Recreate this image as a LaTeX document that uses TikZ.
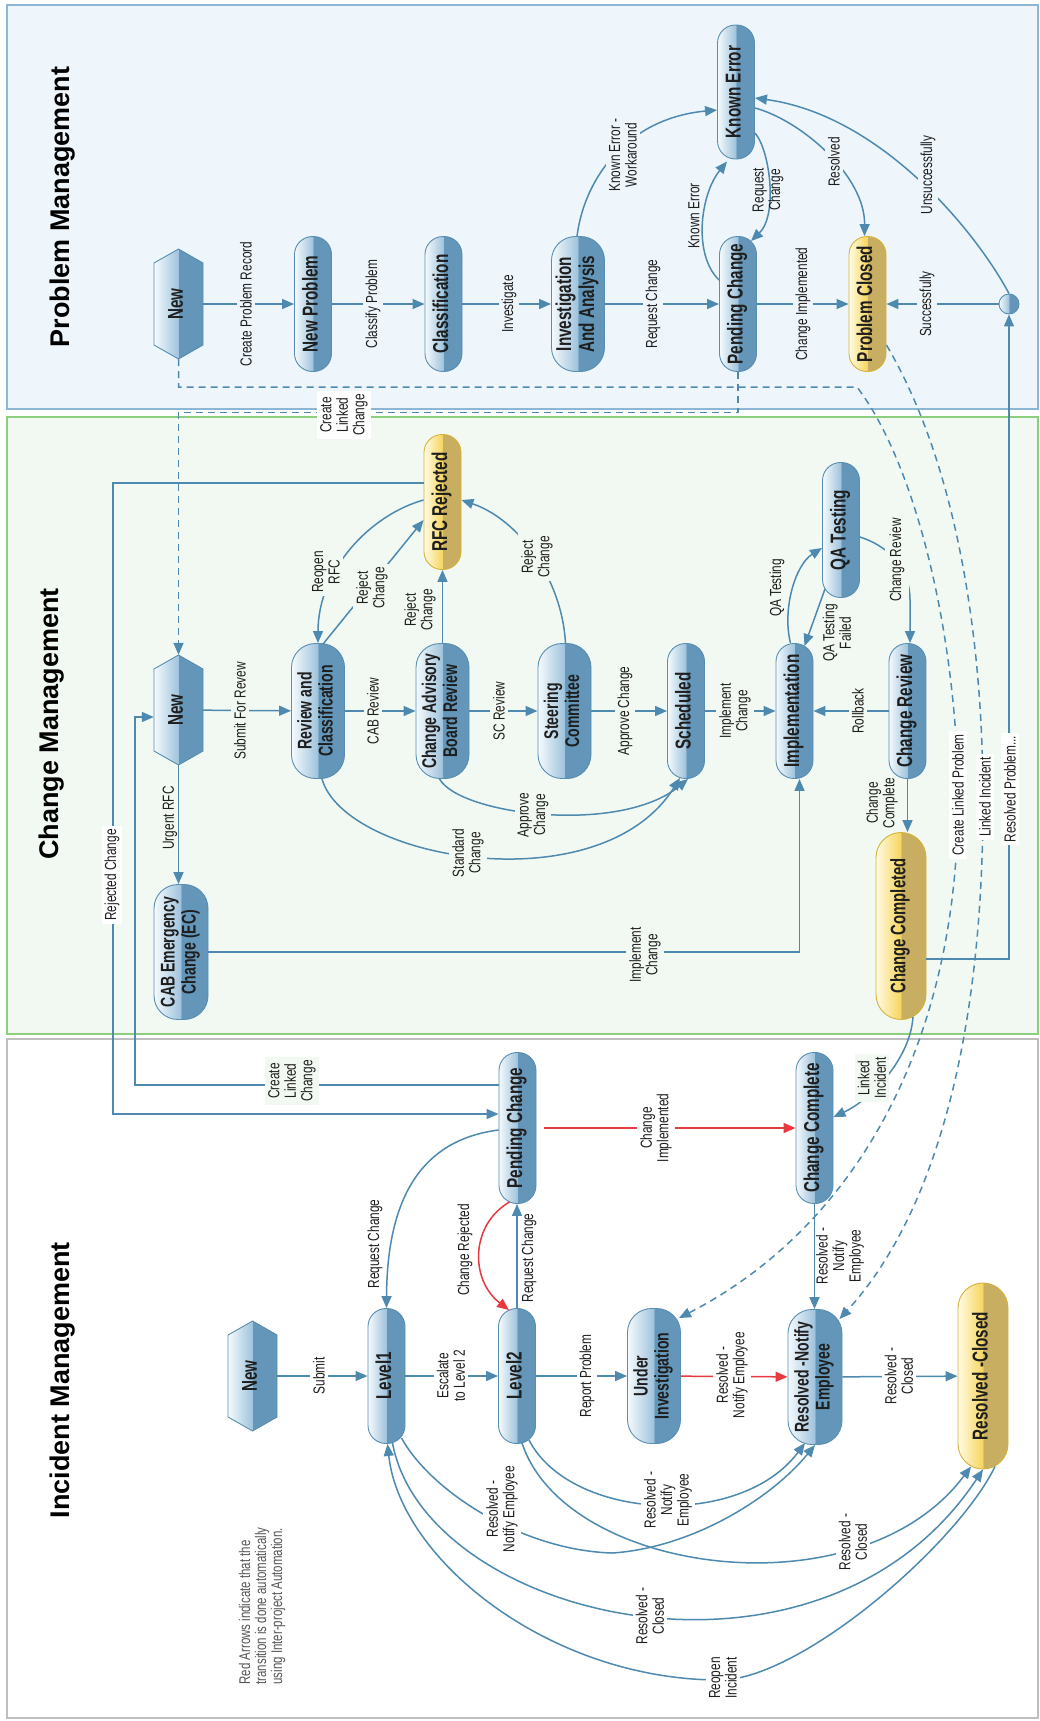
\documentclass[tikz,border=0pt]{standalone}
\usepackage{fontspec}
\setmainfont{Liberation Sans}
\newfontfamily\cond{Liberation Sans}[FakeStretch=0.74]
\newfontfamily\condb{Liberation Sans}[FakeStretch=0.71]
\usepackage{graphicx}
\usetikzlibrary{arrows.meta}
\definecolor{pmbg}{RGB}{238,246,252}
\definecolor{pmbd}{RGB}{140,182,212}
\definecolor{cmbg}{RGB}{242,249,242}
\definecolor{cmbd}{RGB}{141,206,126}
\definecolor{imbd}{RGB}{190,190,190}
\definecolor{lc}{RGB}{78,138,176}
\definecolor{rc}{RGB}{230,57,64}
\definecolor{bw}{RGB}{246,250,253}
\definecolor{bl}{RGB}{160,196,220}
\definecolor{bs}{RGB}{99,150,184}
\definecolor{bb}{RGB}{88,142,178}
\definecolor{yw}{RGB}{255,251,228}
\definecolor{yl}{RGB}{246,214,96}
\definecolor{yd}{RGB}{200,174,96}
\definecolor{yb}{RGB}{214,178,58}
\definecolor{txt}{RGB}{30,30,30}
\definecolor{legc}{RGB}{85,85,85}
\pgfdeclarehorizontalshading{pillblue}{100bp}{color(0bp)=(bw); color(25bp)=(bw); color(49.6bp)=(bl); color(50.4bp)=(bs); color(100bp)=(bs)}
\pgfdeclarehorizontalshading{pillyellow}{100bp}{color(0bp)=(yw); color(25bp)=(yw); color(49.6bp)=(yl); color(50.4bp)=(yd); color(100bp)=(yd)}
\newcommand\rt[1]{\rotatebox{90}{\begin{tabular}{@{}c@{}}#1\end{tabular}}}
\tikzset{
  pill/.style={shade, shading=pillblue, draw=bb, line width=0.9pt, rounded corners=18pt, minimum width=37pt, minimum height=135pt, inner sep=0pt, font=\condb\bfseries\fontsize{21.5}{23}\selectfont, text=txt},
  wpill/.style={pill, minimum width=53pt, rounded corners=24pt, font=\condb\bfseries\fontsize{19.8}{21}\selectfont},
  ypill/.style={pill, shading=pillyellow, draw=yb},
  hexbox/.style={minimum width=49pt, minimum height=110pt, inner sep=0pt, font=\condb\bfseries\fontsize{21.4}{22}\selectfont, text=txt},
  hexshade/.style={shading=pillblue, draw=bb, line width=0.9pt},
  conn/.style={draw=lc, line width=1.5pt},
  arr/.style={conn, -{Triangle[length=12pt,width=10pt]}},
  rarr/.style={arr, draw=rc},
  darr/.style={arr, dash pattern=on 7pt off 5pt},
  lbl/.style={rotate=90, font=\cond\fontsize{16}{16.5}\selectfont, align=center, inner sep=3pt, text=txt},
  lblp/.style={lbl, fill=pmbg},
  lblc/.style={lbl, fill=cmbg},
  lblw/.style={lbl, fill=white},
  title/.style={rotate=90, font=\bfseries\fontsize{27}{27}\selectfont, text=black}
}
\newcommand\hexnode[4]{%
  \shade[hexshade] (#2,#3-55) -- (#2+24.5,#3-41) -- (#2+24.5,#3+41) -- (#2,#3+55) -- (#2-24.5,#3+41) -- (#2-24.5,#3-41) -- cycle;
  \node[hexbox] (#1) at (#2,#3) {\rt{#4}};}
\begin{document}
\begin{tikzpicture}[x=1pt,y=-1pt]
\useasboundingbox (0,0) rectangle (1039,1721);
\fill[white] (0,0) rectangle (1039,1721);
% panels
\draw[fill=pmbg, draw=pmbd, line width=1.2pt] (7,5) rectangle (1038,409);
\draw[fill=cmbg, draw=cmbd, line width=1.2pt] (7,417) rectangle (1038,1034);
\draw[fill=white, draw=imbd, line width=1.2pt] (7,1039) rectangle (1038,1718);
\node[title] (t1) at (63,207) {Problem Management};
\node[title] (t2) at (52,724) {Change Management};
\node[title] (t3) at (63,1380) {Incident Management};
\node[rotate=90, align=left, font=\cond\fontsize{15.5}{16}\selectfont, text=legc] (legend) at (262,1606) {Red Arrows indicate that the\\transition is done automatically\\using Inter-project Automation.};

% ---------- Problem Management nodes
\hexnode{pmnew}{178.5}{304}{New}
\node[pill] (pmnp) at (313,304) {\rt{New Problem}};
\node[pill] (pmcl) at (443.5,304) {\rt{Classification}};
\node[wpill, font=\condb\bfseries\fontsize{21.5}{23}\selectfont] (pmia) at (578,304) {\rt{Investigation\\And Analysis}};
\node[pill] (pmpc) at (738,304) {\rt{Pending Change}};
\node[ypill] (pmcd) at (867.5,304) {\rt{Problem Closed}};
\node[pill, minimum height=134pt] (pmke) at (736,92) {\rt{Known Error}};
\node[circle, shade, shading=pillblue, draw=bb, line width=0.9pt, minimum size=20pt, inner sep=0pt] (pmci) at (1009,304) {};

% ---------- Change Management nodes
\hexnode{cmnew}{178.5}{710}{New}
\node[wpill] (cmrc) at (318,711) {\rt{Review and\\Classification}};
\node[wpill] (cmcab) at (442.5,711) {\rt{Change Advisory\\Board Review}};
\node[wpill] (cmsc) at (564.5,711) {\rt{Steering\\Committee}};
\node[pill] (cmsch) at (686,711) {\rt{Scheduled}};
\node[pill] (cmimp) at (794.5,711) {\rt{Implementation}};
\node[pill] (cmcr) at (907.5,711) {\rt{Change Review}};
\node[pill] (cmqa) at (841,530) {\rt{QA Testing}};
\node[ypill] (cmrej) at (442.5,502) {\rt{RFC Rejected}};
\node[ypill, minimum width=50pt, minimum height=187pt, rounded corners=25pt, font=\condb\bfseries\fontsize{20.9}{22}\selectfont] (cmcc) at (901,926) {\rt{Change Completed}};
\node[wpill, minimum width=54pt] (cmec) at (181,952) {\rt{CAB Emergency\\Change (EC)}};

% ---------- Incident Management nodes
\hexnode{imnew}{252.5}{1376}{New}
\node[pill] (iml1) at (386.5,1376) {\rt{Level1}};
\node[pill] (iml2) at (517,1376) {\rt{Level2}};
\node[wpill] (imui) at (654,1376) {\rt{Under\\Investigation}};
\node[wpill, minimum width=54pt] (imrne) at (815,1377) {\rt{Resolved -Notify\\Employee}};
\node[ypill, minimum width=50pt, minimum height=186pt, rounded corners=25pt] (imrc) at (983,1376) {\rt{Resolved -Closed}};
\node[pill, minimum height=151pt] (impc) at (517.5,1128) {\rt{Pending Change}};
\node[pill, minimum height=151pt] (imcc) at (814.5,1128) {\rt{Change Complete}};

% ---------- PM connectors
\draw[arr] (pmnew) -- (pmnp);
\draw[arr] (pmnp) -- (pmcl);
\draw[arr] (pmcl) -- (pmia);
\draw[arr] (pmia) -- (pmpc);
\draw[arr] (pmpc) -- (pmcd);
\draw[arr] (pmci) -- (pmcd);
\draw[arr] ([xshift=-1pt]pmia.north) .. controls (585,175) and (630,118) .. ([yshift=-18pt]pmke.west);
\draw[arr] ([yshift=24pt]pmpc.west) .. controls (693,255) and (700,195) .. ([xshift=-9pt,yshift=-2pt]pmke.south);
\draw[arr] ([yshift=-41pt]pmke.east) .. controls (770,150) and (778,215) .. ([xshift=13pt,yshift=-5pt]pmpc.north);
\draw[arr] ([yshift=-16pt]pmke.east) .. controls (800,120) and (865,175) .. ([xshift=-3pt]pmcd.north);
\draw[arr] (pmci.north) .. controls (975,230) and (880,115) .. ([yshift=-6pt]pmke.east);
\draw[arr] ([yshift=-33pt]cmcc.east) -| (pmci.south);
% dashed
\draw[darr] (pmnew.south) |- (857,387) .. controls (920,470) and (958,650) .. (958,800) .. controls (958,1050) and (850,1230) .. ([xshift=-2pt,yshift=-10pt]imui.north east);
\draw[darr] ([yshift=-41pt]pmcd.east) .. controls (960,470) and (983,650) .. (983,800) .. controls (983,1050) and (930,1220) .. ([xshift=-3pt,yshift=-10pt]imrne.north east);
\draw[darr] (pmpc.south) -- ++(0,40.5) -| (cmnew.north);

% ---------- CM connectors
\draw[arr] (cmnew) -- (cmrc);
\draw[arr] (cmrc) -- (cmcab);
\draw[arr] (cmcab) -- (cmsc);
\draw[arr] (cmsc) -- (cmsch);
\draw[arr] (cmsch) -- (cmimp);
\draw[arr] (cmcr) -- (cmimp);
\draw[arr] ([xshift=-4pt]cmimp.north) .. controls (782,610) and (795,565) .. ([yshift=-18pt]cmqa.west);
\draw[arr] ([xshift=-16pt,yshift=9pt]cmqa.south) -- ([xshift=10pt,yshift=-3pt]cmimp.north);
\draw[arr] ([yshift=-7pt]cmqa.east) .. controls (885,545) and (910,565) .. (910,600) -- ([xshift=2.5pt]cmcr.north);
\draw[arr] (cmcr.south) -- (cmcr.south |- cmcc.north);
\draw[arr] (cmcab.north) -- (cmrej.south);
\draw[arr] ([xshift=1pt]cmsc.north) .. controls (562,580) and (520,520) .. ([yshift=2pt]cmrej.east);
\draw[arr] ([xshift=5pt,yshift=-1pt]cmrc.north) -- ([yshift=-18pt]cmrej.west);
\draw[arr] ([yshift=2pt]cmrej.west) .. controls (370,515) and (318,570) .. (cmrc.north);
\draw[arr] ([yshift=19pt]cmrej.west) -| (113,1114) -- ([yshift=14pt]impc.west);
\draw[arr] ([yshift=43pt]impc.west) -| (135,717) -- ([yshift=-7pt]cmnew.west);
\draw[arr] (cmnew.south) -- (cmnew.south |- cmec.north);
\draw[arr] (cmec.east) -| ([xshift=5pt]cmimp.south);
\draw[arr] ([xshift=4pt]cmrc.south) .. controls (345,860) and (600,905) .. ([xshift=-6pt,yshift=1pt]cmsch.south);
\draw[arr] ([xshift=-3pt]cmcab.south) .. controls (460,815) and (620,835) .. ([xshift=2pt]cmsch.south);

% ---------- IM connectors
\draw[arr] (imnew) -- (iml1);
\draw[arr] (iml1) -- (iml2);
\draw[arr] (iml2) -- (imui);
\draw[rarr] (imui) -- (imrne);
\draw[arr] (imrne) -- (imrc);
\draw[arr] ([yshift=-2pt]impc.west) .. controls (420,1140) and (387,1200) .. (iml1.north);
\draw[arr] (iml2.north) -- (iml2.north |- impc.south);
\draw[rarr] ([xshift=-8pt,yshift=2pt]impc.south) .. controls (470,1225) and (470,1280) .. ([xshift=-8pt,yshift=-2pt]iml2.north);
\draw[rarr] ([xshift=8pt]impc.east) -- (imcc.west);
\draw[arr] ([xshift=12pt,yshift=3pt]cmcc.south) .. controls (910,1060) and (870,1100) .. ([yshift=11pt]imcc.east);
\draw[arr] (imcc.south) -- (imcc.south |- imrne.north);
\draw[arr] ([xshift=15pt,yshift=6pt]iml1.south) .. controls (430,1490) and (520,1550) .. (612,1553) .. controls (690,1548) and (770,1500) .. (imrne.south);
\draw[arr] ([xshift=12pt,yshift=4pt]iml2.south) .. controls (570,1520) and (740,1530) .. ([xshift=-10pt,yshift=2pt]imrne.south);
\draw[arr] ([xshift=5pt,yshift=1pt]iml2.south) .. controls (565,1575) and (860,1615) .. ([xshift=-12pt,yshift=3pt]imrc.south);
\draw[arr] ([xshift=6pt,yshift=1pt]iml1.south) .. controls (425,1620) and (820,1715) .. (imrc.south);
\draw[arr] ([xshift=12pt,yshift=3pt]imrc.south) .. controls (957,1545) and (800,1680) .. (720,1680) .. controls (550,1680) and (400,1560) .. ([xshift=1pt]iml1.south);

% ---------- PM labels
\node[lblp] (l1) at (246,304) {Create Problem Record};
\node[lblp] (l2) at (373,304) {Classify Problem};
\node[lblp] (l3) at (509,304) {Investigate};
\node[lblp] (l4) at (653,304) {Request Change};
\node[lblp] (l5) at (803,304) {Change Implemented};
\node[lblp] (l6) at (927,304) {Successfully};
\node[lblp] (l7) at (623,155) {Known Error -\\Workaround};
\node[lbl] (l8) at (694,216) {Known Error};
\node[lbl] (l9) at (768,190) {Request\\Change};
\node[lblp] (l10) at (834,162) {Resolved};
\node[lblp] (l11) at (928,175) {Unsuccessfully};
\node[lblw] (l12) at (344,415) {Create\\Linked\\Change};

% ---------- CM labels
\node[lblc] (c1) at (240,711) {Submit For Revew};
\node[lblc] (c2) at (373,711) {CAB Review};
\node[lblc] (c3) at (499,711) {SC Review};
\node[lblc] (c4) at (625,711) {Approve Change};
\node[lblc] (c5) at (735,711) {Implement\\Change};
\node[lblc] (c6) at (858,711) {Rollback};
\node[lbl] (c7) at (777,588) {QA Testing};
\node[lbl] (c8) at (837,633) {QA Testing\\Failed};
\node[lblc, inner sep=5pt] (c9) at (897,560) {Change Review};
\node[lbl] (c10) at (882,803) {Change\\Complete};
\node[lbl] (c11) at (420,610) {Reject\\Change};
\node[lblc] (c12) at (537,557) {Reject\\Change};
\node[lblc] (c13) at (372,588) {Reject\\Change};
\node[lblc] (c14) at (326,572) {Reopen\\RFC};
\node[lblw] (c15) at (112,875) {Rejected Change};
\node[lblc] (c16) at (292,1081) {Create\\Linked\\Change};
\node[lbl] (c17) at (170,818) {Urgent RFC};
\node[lblc] (c18) at (645,955) {Implement\\Change};
\node[lblc] (c19) at (468,853) {Standard\\Change};
\node[lblc] (c20) at (533,815) {Approve\\Change};
\node[lblw] (c21) at (958,795) {Create Linked Problem};
\node[lblw] (c22) at (985,797) {Linked Incident};
\node[lblw] (c23) at (1010,789) {Resolved Problem...};

% ---------- IM labels
\node[lblw] (i1) at (319,1376) {Submit};
\node[lblw] (i2) at (451,1376) {Escalate\\to Level 2};
\node[lblw] (i3) at (587,1376) {Report Problem};
\node[lblw] (i4) at (732,1375) {Resolved -\\Notify Employee};
\node[lblw] (i5) at (899,1376) {Resolved -\\Closed};
\node[lbl] (i6) at (375,1244) {Request Change};
\node[lbl] (i7) at (529,1258) {Request Change};
\node[lbl] (i8) at (465,1250) {Change Rejected};
\node[lblw] (i9) at (656,1128) {Change\\Implemented};
\node[lblc] (i10) at (872,1078) {Linked\\Incident};
\node[lbl] (i11) at (840,1256) {Resolved -\\Notify\\Employee};
\node[lblw] (i12) at (502,1509) {Resolved -\\Notify Employee};
\node[lblw] (i13) at (668,1500) {Resolved -\\Notify\\Employee};
\node[lblw] (i14) at (853,1542) {Resolved -\\Closed};
\node[lblw] (i15) at (650,1616) {Resolved -\\Closed};
\node[lblw] (i16) at (723,1678) {Reopen\\Incident};
\end{tikzpicture}
\end{document}
